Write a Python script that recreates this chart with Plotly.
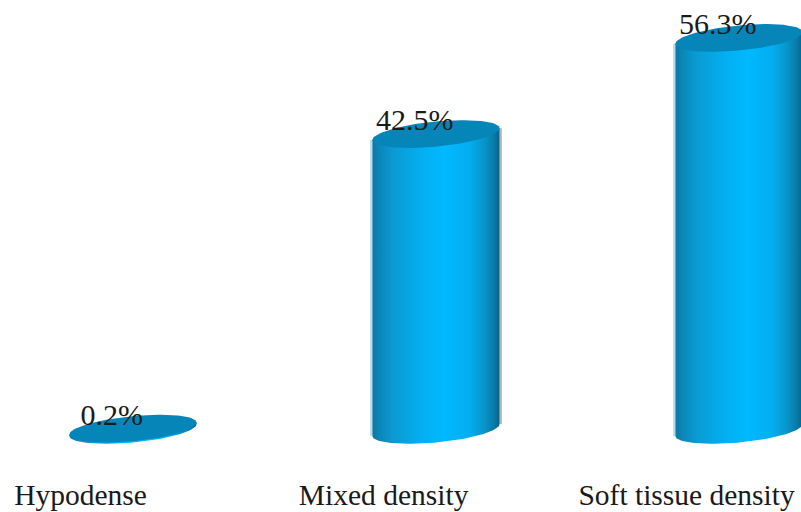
import numpy as np
import plotly.graph_objects as go

categories = ["Hypodense", "Mixed density", "Soft tissue density"]
percentages = [0.2, 42.5, 56.3]
value_labels = ["0.2%", "42.5%", "56.3%"]

# Cylinder proportions, in axis units
HALF_WIDTH = 0.21
MINOR = 1.8
TILT = 0.85

SHADE = [
    [0.0, "#0a78a4"],
    [0.05, "#0a86b6"],
    [0.16, "#0a9ad2"],
    [0.38, "#04aef0"],
    [0.56, "#00b9ff"],
    [0.76, "#03aef0"],
    [0.88, "#0894c8"],
    [0.96, "#0a78a4"],
    [1.0, "#0a5f84"],
]
TOP_COLOR = "#0585b8"
SERIF = "Liberation Serif, Times New Roman, serif"

fig = go.Figure()


def rim(cx, level, angles):
    return cx + HALF_WIDTH * np.cos(angles), level + TILT * np.cos(angles) + MINOR * np.sin(angles)


for i, value in enumerate(percentages):
    bx, by = rim(i, 0, np.linspace(0, -np.pi, 60))
    tx, ty = rim(i, value, np.array([np.pi, 0.0]))

    # Soft rims just outside the side walls
    if value > 5:
        for side, colour in ((1, "#b4b4b4"), (-1, "#b6dcee")):
            fig.add_trace(go.Scatter(
                x=[i + side * (HALF_WIDTH + 0.004)] * 2,
                y=[side * TILT, value + side * TILT],
                mode="lines",
                line=dict(width=2, color=colour),
                hoverinfo="skip",
            ))

    # Side wall: down the right edge, along the front of the base, up the left edge
    fig.add_trace(go.Scatter(
        x=np.concatenate([bx, tx]),
        y=np.concatenate([by, ty]),
        mode="lines",
        line=dict(width=0),
        fill="toself",
        fillgradient=dict(type="horizontal", colorscale=SHADE),
        hoverinfo="skip",
    ))
    # Top face
    ex, ey = rim(i, value, np.linspace(0, 2 * np.pi, 120))
    fig.add_trace(go.Scatter(
        x=ex, y=ey,
        mode="lines",
        line=dict(width=0),
        fill="toself",
        fillcolor=TOP_COLOR,
        hoverinfo="skip",
    ))

fig.add_trace(go.Scatter(
    x=[i - 0.07 for i in range(len(percentages))],
    y=[v + 1.6 for v in percentages],
    mode="text",
    text=value_labels,
    textposition="middle center",
    textfont=dict(family=SERIF, size=30, color="#1a1a1a"),
    hoverinfo="skip",
))

fig.update_layout(
    width=801,
    height=512,
    margin=dict(l=0, r=0, t=0, b=38),
    paper_bgcolor="white",
    plot_bgcolor="white",
    showlegend=False,
    xaxis=dict(
        range=[-133 / 303, 668 / 303],
        tickmode="array",
        tickvals=[i - 0.173 for i in range(len(categories))],
        ticktext=categories,
        tickfont=dict(family=SERIF, size=29.5, color="#1a1a1a"),
        showgrid=False,
        zeroline=False,
        showline=False,
        ticks="",
        fixedrange=True,
    ),
    yaxis=dict(
        range=[-6.32, 61.75],
        visible=False,
        fixedrange=True,
    ),
)

fig.write_html("out.html", config={"displayModeBar": False})
